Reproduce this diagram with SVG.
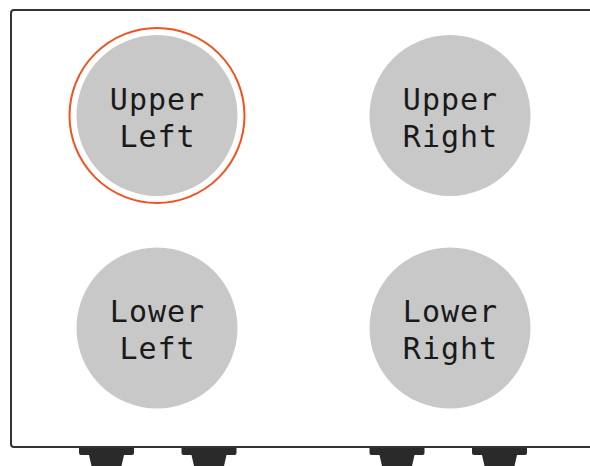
<svg xmlns="http://www.w3.org/2000/svg" width="590" height="466" viewBox="0 0 590 466">
<defs>
<style>
.foot{fill:#2a2a2a}
.node{fill:#c8c8c8}
.lbl{font-family:"DejaVu Sans Mono","Liberation Mono",monospace;font-size:30px;letter-spacing:1px;fill:#1a1a1a;text-anchor:middle}
.sel{fill:none;stroke:#f4511e;stroke-width:2}
</style>
<path id="foot" class="foot" d="M-27.5,447 H27.5 V453 Q27.5,455 25.5,455 H17.5 L15,466 H-15 L-17.5,455 H-25.5 Q-27.5,455 -27.5,453 Z"/>
</defs>
<rect width="590" height="466" fill="#fff"/>
<g id="feet">
<use href="#foot" x="106.5"/>
<use href="#foot" x="209"/>
<use href="#foot" x="397"/>
<use href="#foot" x="499.5"/>
</g>
<rect id="frame" x="11" y="10" width="600" height="437" rx="3" fill="#fff" stroke="#333" stroke-width="2"/>
<g id="connectors"></g>
<g id="upper-left">
<circle class="sel" cx="157" cy="115.5" r="87.5"/>
<circle class="node" cx="157" cy="115.5" r="80.5"/>
<text class="lbl" x="157.5" y="110">Upper</text>
<text class="lbl" x="157.5" y="147">Left</text>
</g>
<g id="upper-right">
<circle class="node" cx="450" cy="115.5" r="80.5"/>
<text class="lbl" x="450.5" y="110">Upper</text>
<text class="lbl" x="450.5" y="147">Right</text>
</g>
<g id="lower-left">
<circle class="node" cx="157" cy="328" r="80.5"/>
<text class="lbl" x="157.5" y="322">Lower</text>
<text class="lbl" x="157.5" y="359">Left</text>
</g>
<g id="lower-right">
<circle class="node" cx="450" cy="328" r="80.5"/>
<text class="lbl" x="450.5" y="322">Lower</text>
<text class="lbl" x="450.5" y="359">Right</text>
</g>
</svg>
